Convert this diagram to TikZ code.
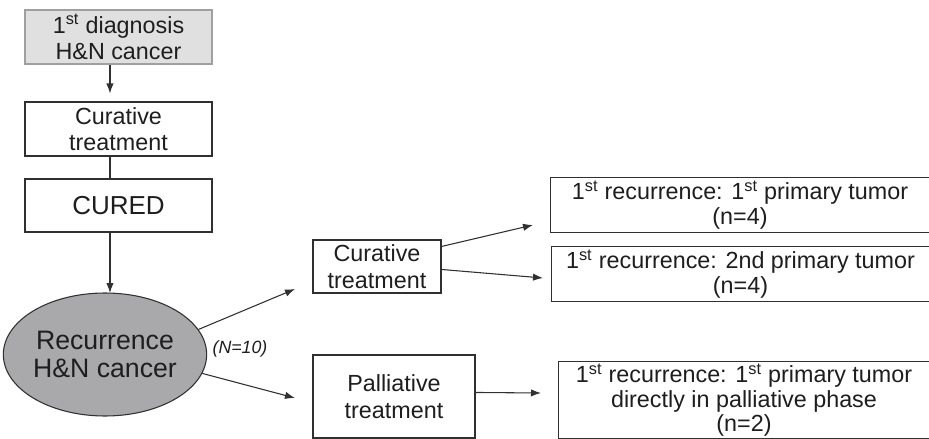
\documentclass[tikz,border=0pt]{standalone}
\usepackage{fontspec}
\setmainfont{Liberation Sans}
\usetikzlibrary{arrows.meta,shapes.geometric}
\definecolor{txt}{HTML}{1E1E1E}
\definecolor{ln}{HTML}{303030}
\definecolor{lightbox}{HTML}{E0E0E0}
\definecolor{lightline}{HTML}{A0A0A0}
\definecolor{ellfill}{HTML}{A9A9AB}
\newcommand{\sts}{\textsuperscript{st}}
\tikzset{
  box/.style={draw=ln, line width=0.8pt, align=center, inner sep=0pt, text=txt,
    font=\fontsize{17.5}{20}\selectfont},
  openbox/.style={align=center, inner sep=0pt, text=txt,
    font=\fontsize{17.5}{18.5}\selectfont},
  conn/.style={draw=ln, line width=0.8pt},
  arr/.style={conn, -{Latex[length=7.5pt,width=5.5pt]}},
}
\begin{document}
\begin{tikzpicture}[x=0.75pt,y=-0.75pt]
\useasboundingbox (0,0) rectangle (929,439);
\fill[white] (0,0) rectangle (929,439);

\node[box, fill=lightbox, draw=lightline, minimum width=140.25pt, minimum height=40.5pt] (diag) at (118.5,37) {1\sts{} diagnosis\\H\&N cancer};
\node[box, minimum width=140.25pt, minimum height=40.5pt] (cur1) at (118.5,129) {Curative\\treatment};
\node[box, minimum width=140.25pt, minimum height=39.75pt, font=\fontsize{19.5}{22}\selectfont] (cured) at (118.5,205.5) {CURED};
\node[ellipse, draw=ln, line width=0.8pt, fill=ellfill, inner sep=0pt, minimum width=147pt, minimum height=92.25pt, align=center, text=txt, font=\fontsize{20}{20.5}\selectfont] (rec) at (105,354.5) {Recurrence\\H\&N cancer};
\node[text=txt, font=\fontsize{13.3}{15}\selectfont\itshape] (N) at (240,349) {(N=10)};

\node[box, minimum width=96pt, minimum height=39.75pt] (cur2) at (377,266.5) {Curative\\treatment};
\node[box, minimum width=121.5pt, minimum height=62.25pt] (pal) at (394,396.5) {Palliative\\treatment};

\node[openbox, minimum width=283.5pt, minimum height=40.5pt] (ra) at (740,205) {1\sts{} recurrence: 1\sts{} primary tumor\\(n=4)};
\node[openbox, minimum width=282.75pt, minimum height=40.5pt] (rb) at (740.5,274) {1\sts{} recurrence: 2nd primary tumor\\(n=4)};
\node[openbox, minimum width=277.5pt, minimum height=57pt] (rc) at (744,400) {1\sts{} recurrence: 1\sts{} primary tumor\\directly in palliative phase\\(n=2)};
\foreach \b in {ra,rb,rc}{
  \draw[conn] ([xshift=10pt]\b.north east) -- (\b.north west) -- (\b.south west) -- ([xshift=10pt]\b.south east);
}

\coordinate (a1) at (295,289);
\coordinate (a2) at (295,398);
\coordinate (b1) at (533,225);
\coordinate (b2) at (543,278);
\coordinate (c1) at (541,393);

\draw[arr, shorten >=6pt] ([xshift=-6.4pt]diag.south) -- ([xshift=-6.4pt]cur1.north);
\draw[conn] ([xshift=-6.4pt]cur1.south) -- ([xshift=-6.4pt]cured.north);
\draw[arr] ([xshift=-6.4pt]cured.south) -- ++(0,60.5);
\draw[arr] (rec.15) -- (a1);
\draw[arr] (rec.-11) -- (a2);
\draw[arr] ([yshift=-5.25pt]cur2.north east) -- (b1);
\draw[arr] ([yshift=-22.5pt]cur2.north east) -- (b2);
\draw[arr] ([yshift=-28.5pt]pal.north east) -- (c1);
\end{tikzpicture}
\end{document}
